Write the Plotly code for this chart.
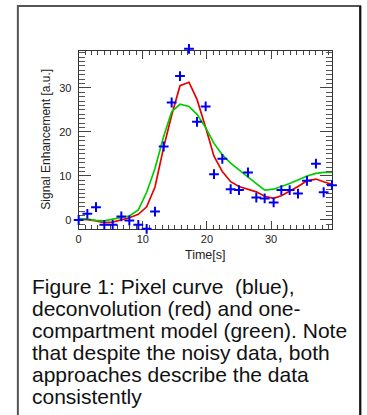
import plotly.graph_objects as go

# ---- data ----
time_s = [0, 1.35, 2.7, 4.0, 5.3, 6.65, 7.9, 9.3, 10.6, 11.9, 13.25, 14.5, 15.8, 17.2,
          18.45, 19.8, 21.1, 22.4, 23.7, 25.0, 26.4, 27.7, 29.0, 30.4, 31.6, 32.9,
          34.2, 35.6, 37.0, 38.2, 39.5]
pixel_curve = [0, 1.4, 2.9, -1.1, -1.1, 0.8, -0.1, -1.1, -2.0, 1.9, 16.7, 26.7, 32.7, 38.9,
               22.3, 25.8, 10.4, 13.9, 7.0, 6.8, 10.8, 5.1, 4.9, 4.0, 6.8, 6.8,
               6.0, 8.9, 12.8, 6.3, 7.9]
deconvolution = [0.2, 0.1, -0.2, -0.6, -0.5, 0.0, 0.5, 1.3, 3.0, 7.5, 16.5, 23.8, 30.5, 31.3,
                 27.4, 21.0, 14.5, 11.0, 8.7, 7.6, 7.0, 6.4, 5.4, 4.9, 5.5, 6.5,
                 7.6, 8.9, 9.3, 8.7, 8.1]
one_compartment = [0.3, 0.2, -0.1, -0.2, 0.2, 0.5, 0.9, 2.3, 6.3, 11.7, 19.0, 24.6, 26.3, 25.8,
                   24.0, 21.0, 17.4, 14.8, 12.9, 11.4, 9.8, 8.3, 6.8, 7.0, 7.6, 8.3,
                   9.1, 10.0, 10.6, 10.8, 10.8]
x_ticks = [0, 10, 20, 30]
y_ticks = [0, 10, 20, 30]
caption_lines = ["Figure 1: Pixel curve  (blue),",
                 "deconvolution (red) and one-",
                 "compartment model (green). Note",
                 "that despite the noisy data, both",
                 "approaches describe the data",
                 "consistently"]

W, H = 367, 415
def px(x):
    return x / W
def py(y):
    return 1 - y / H

# plot frame in pixels
PL, PR, PT, PB = 76.3, 331.7, 51.0, 229.0
Y0, Y1 = -2.05, 38.4
scale = (PB - PT) / (Y1 - Y0)
# second (hidden) y axis for markers: same scale, taller domain so a point above the frame stays visible
PT2 = 38.0
Y1b = Y0 + (PB - PT2) / scale

fig = go.Figure()
fig.add_trace(go.Scatter(x=time_s, y=deconvolution, mode="lines",
                         line=dict(color="#e80000", width=1.7), showlegend=False))
fig.add_trace(go.Scatter(x=time_s, y=one_compartment, mode="lines",
                         line=dict(color="#00cc00", width=1.7), showlegend=False))
fig.add_trace(go.Scatter(x=time_s, y=pixel_curve, mode="markers", cliponaxis=False,
                         xaxis="x", yaxis="y2",
                         marker=dict(symbol="cross-thin", size=7,
                                     line=dict(color="#0000ee", width=2)),
                         showlegend=False))

axis_common = dict(showgrid=False, zeroline=False, showline=True, linecolor="#333",
                   linewidth=1, mirror="ticks", ticks="inside", tickcolor="#444",
                   tickfont=dict(family="Liberation Sans, Arial", size=11, color="#222"))
fig.update_layout(
    xaxis=dict(range=[0, 39.5], tickvals=x_ticks, ticklen=8, tickwidth=1,
               domain=[px(PL), px(PR)], anchor="y",
               minor=dict(dtick=1, ticklen=4, ticks="inside", tickcolor="#444"),
               **axis_common),
    yaxis=dict(range=[Y0, Y1], tickvals=y_ticks, ticklen=12, tickwidth=1,
               domain=[py(PB), py(PT)], ticklabelstandoff=4, anchor="x",
               minor=dict(dtick=1, ticklen=6, ticks="inside", tickcolor="#555"),
               **axis_common),
    yaxis2=dict(range=[Y0, Y1b], domain=[py(PB), py(PT2)],
                visible=False, anchor="x", showgrid=False, zeroline=False),
)

ann = [
    dict(text="Time[s]", x=px(204), y=py(255), xref="paper", yref="paper",
         showarrow=False, xanchor="center", yanchor="middle",
         font=dict(family="Liberation Sans, Arial", size=12.5, color="#222")),
    dict(text="Signal Enhancement [a.u.]", x=px(43), y=py(139), xref="paper", yref="paper",
         showarrow=False, xanchor="center", yanchor="middle", textangle=-90,
         font=dict(family="Liberation Sans, Arial", size=12, color="#222")),
]
baselines = [293.3, 315.2, 337.1, 359.0, 380.9, 402.8]
for line, b in zip(caption_lines, baselines):
    ann.append(dict(text=line, x=px(27.5), y=py(b - 6.5), xref="paper", yref="paper",
                    showarrow=False, xanchor="left", yanchor="middle", align="left",
                    font=dict(family="Liberation Sans, Arial", size=21, color="#111")))

shapes = [
    dict(type="rect", xref="paper", yref="paper", x0=px(15), x1=px(360), y0=-0.05, y1=py(6),
         line=dict(color="#555", width=2)),
    dict(type="line", xref="paper", yref="paper", x0=px(360.3), x1=px(360.3), y0=-0.05, y1=py(6),
         line=dict(color="#111", width=2)),
]

fig.update_layout(width=W, height=H, autosize=False,
                  margin=dict(l=0, r=0, t=0, b=0, pad=0),
                  paper_bgcolor="white", plot_bgcolor="rgba(0,0,0,0)",
                  annotations=ann, shapes=shapes)

fig.write_html("out.html")
